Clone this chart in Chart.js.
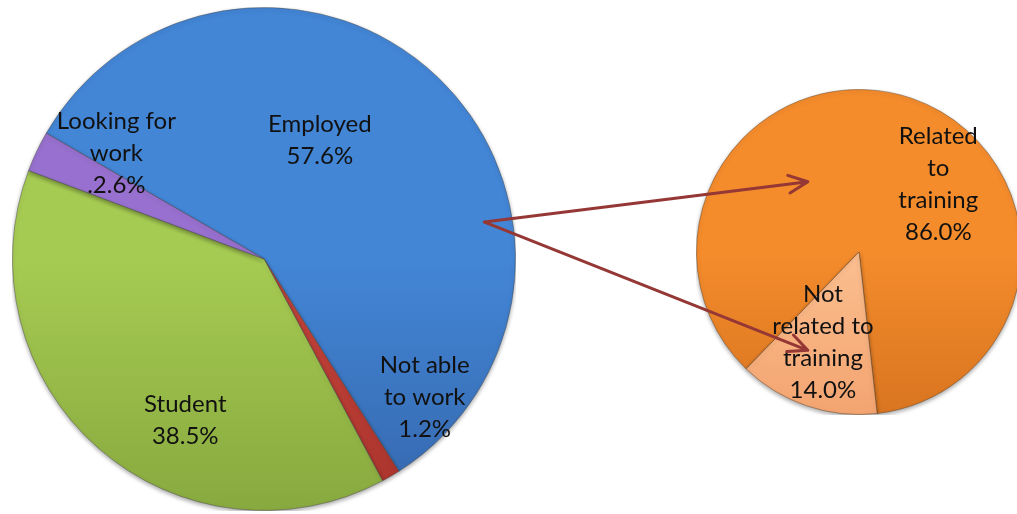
<!DOCTYPE html>
<html>
<head>
<meta charset="utf-8">
<script src="https://cdn.jsdelivr.net/npm/chart.js@4.4.1/dist/chart.umd.min.js"></script>
<style>
  html, body { margin: 0; padding: 0; width: 1017px; height: 514px; overflow: hidden; background: #ffffff; }
  canvas { position: absolute; display: block; }
  #statusChart { left: 12px; top: 7px; }
  #jobChart { left: 696px; top: 89px; }
  #links { left: 0; top: 0; pointer-events: none; }
</style>
</head>
<body>
<canvas id="statusChart" width="504" height="504"></canvas>
<canvas id="jobChart" width="326" height="326"></canvas>
<canvas id="links" width="1017" height="514"></canvas>
<script>
// Current status of graduates (percent)
const statusLabels = [['Employed'], ['Not able', 'to work'], ['Student'], ['Looking for', 'work']];
const statusValues = [57.6, 1.2, 38.5, 2.6];
const statusValuePrefix = ['', '', '', '.'];

// Employed graduates: is the job related to the training? (percent)
const jobLabels = [['Related', 'to', 'training'], ['Not', 'related to', 'training']];
const jobValues = [86.0, 14.0];
const jobValuePrefix = ['', ''];

const LABEL_FONT = '24px Lato, "Open Sans", sans-serif';

// Vertical shading for each slice, lighter at the top of the pie
function shade(pairs) {
  return (ctx) => {
    const chart = ctx.chart;
    const area = chart.chartArea;
    const [top, bottom] = pairs[ctx.dataIndex];
    if (!area) return top;
    const g = chart.ctx.createLinearGradient(0, area.top, 0, area.bottom);
    g.addColorStop(0, top);
    g.addColorStop(0.5, top);
    g.addColorStop(1, bottom);
    return g;
  };
}

// Text inside each slice: category lines followed by the value
const sliceLabels = {
  id: 'sliceLabels',
  afterDatasetsDraw(chart, args, opts) {
    const meta = chart.getDatasetMeta(0);
    const data = chart.data.datasets[0].data;
    const ctx = chart.ctx;
    ctx.save();
    ctx.font = LABEL_FONT;
    ctx.fillStyle = '#111111';
    ctx.textAlign = 'center';
    ctx.textBaseline = 'middle';
    meta.data.forEach((arc, i) => {
      const [fx, fy] = opts.anchors[i];
      const r = arc.outerRadius;
      const cx = arc.x + fx * r;
      const cy = arc.y + fy * r;
      const lines = chart.data.labels[i].concat(opts.prefix[i] + data[i].toFixed(1) + '%');
      lines.forEach((t, k) => {
        ctx.fillText(t, cx, cy + (k - (lines.length - 1) / 2) * opts.lineHeight);
      });
    });
    ctx.restore();
  }
};

// Soft drop shadow under the slices
const softShadow = {
  id: 'softShadow',
  beforeDatasetDraw(chart) {
    const ctx = chart.ctx;
    ctx.save();
    ctx.shadowColor = 'rgba(0,0,0,0.35)';
    ctx.shadowBlur = 4;
    ctx.shadowOffsetY = 2;
  },
  afterDatasetDraw(chart) {
    chart.ctx.restore();
  }
};

function pieOptions(rotation, anchors, prefix) {
  return {
    responsive: false,
    animation: false,
    rotation: rotation,
    layout: { padding: 0 },
    events: [],
    plugins: {
      legend: { display: false },
      tooltip: { enabled: false },
      sliceLabels: { anchors: anchors, prefix: prefix, lineHeight: 32 }
    }
  };
}

const statusChart = new Chart(document.getElementById('statusChart'), {
  type: 'pie',
  data: {
    labels: statusLabels,
    datasets: [{
      data: statusValues,
      backgroundColor: shade([
        ['#4386d6', '#3567ad'],
        ['#c9463d', '#a8332c'],
        ['#a6cb52', '#88a93f'],
        ['#9870cf', '#7c55ae']
      ]),
      borderColor: 'rgba(70,70,70,0.45)',
      borderWidth: 1
    }]
  },
  options: pieOptions(-60, [
    [0.222, -0.472],
    [0.639, 0.548],
    [-0.313, 0.643],
    [-0.587, -0.421]
  ], statusValuePrefix),
  plugins: [softShadow, sliceLabels]
});

const jobChart = new Chart(document.getElementById('jobChart'), {
  type: 'pie',
  data: {
    labels: jobLabels,
    datasets: [{
      data: jobValues,
      backgroundColor: shade([
        ['#f48c2c', '#d97520'],
        ['#fbbf90', '#f3a470']
      ]),
      borderColor: 'rgba(90,60,30,0.45)',
      borderWidth: 1
    }]
  },
  options: pieOptions(224, [
    [0.488, -0.414],
    [-0.222, 0.556]
  ], jobValuePrefix),
  plugins: [softShadow, sliceLabels]
});

// Arrows from the Employed slice to the breakdown pie
function pointOn(chart, fx, fy) {
  const arc = chart.getDatasetMeta(0).data[0];
  const box = chart.canvas.getBoundingClientRect();
  const r = arc.outerRadius;
  return [box.left + arc.x + fx * r, box.top + arc.y + fy * r];
}

function drawArrow(ctx, from, to) {
  const ang = Math.atan2(to[1] - from[1], to[0] - from[0]);
  const wing = 21, spread = 25 * Math.PI / 180;
  ctx.beginPath();
  ctx.moveTo(from[0], from[1]);
  ctx.lineTo(to[0], to[1]);
  ctx.moveTo(to[0] - wing * Math.cos(ang - spread), to[1] - wing * Math.sin(ang - spread));
  ctx.lineTo(to[0], to[1]);
  ctx.lineTo(to[0] - wing * Math.cos(ang + spread), to[1] - wing * Math.sin(ang + spread));
  ctx.stroke();
}

const links = document.getElementById('links').getContext('2d');
links.strokeStyle = '#953735';
links.lineWidth = 3;
links.lineCap = 'round';
links.lineJoin = 'round';
const origin = pointOn(statusChart, 0.877, -0.147);
drawArrow(links, origin, pointOn(jobChart, -0.315, -0.432));
drawArrow(links, origin, pointOn(jobChart, -0.315, 0.605));
</script>
</body>
</html>
